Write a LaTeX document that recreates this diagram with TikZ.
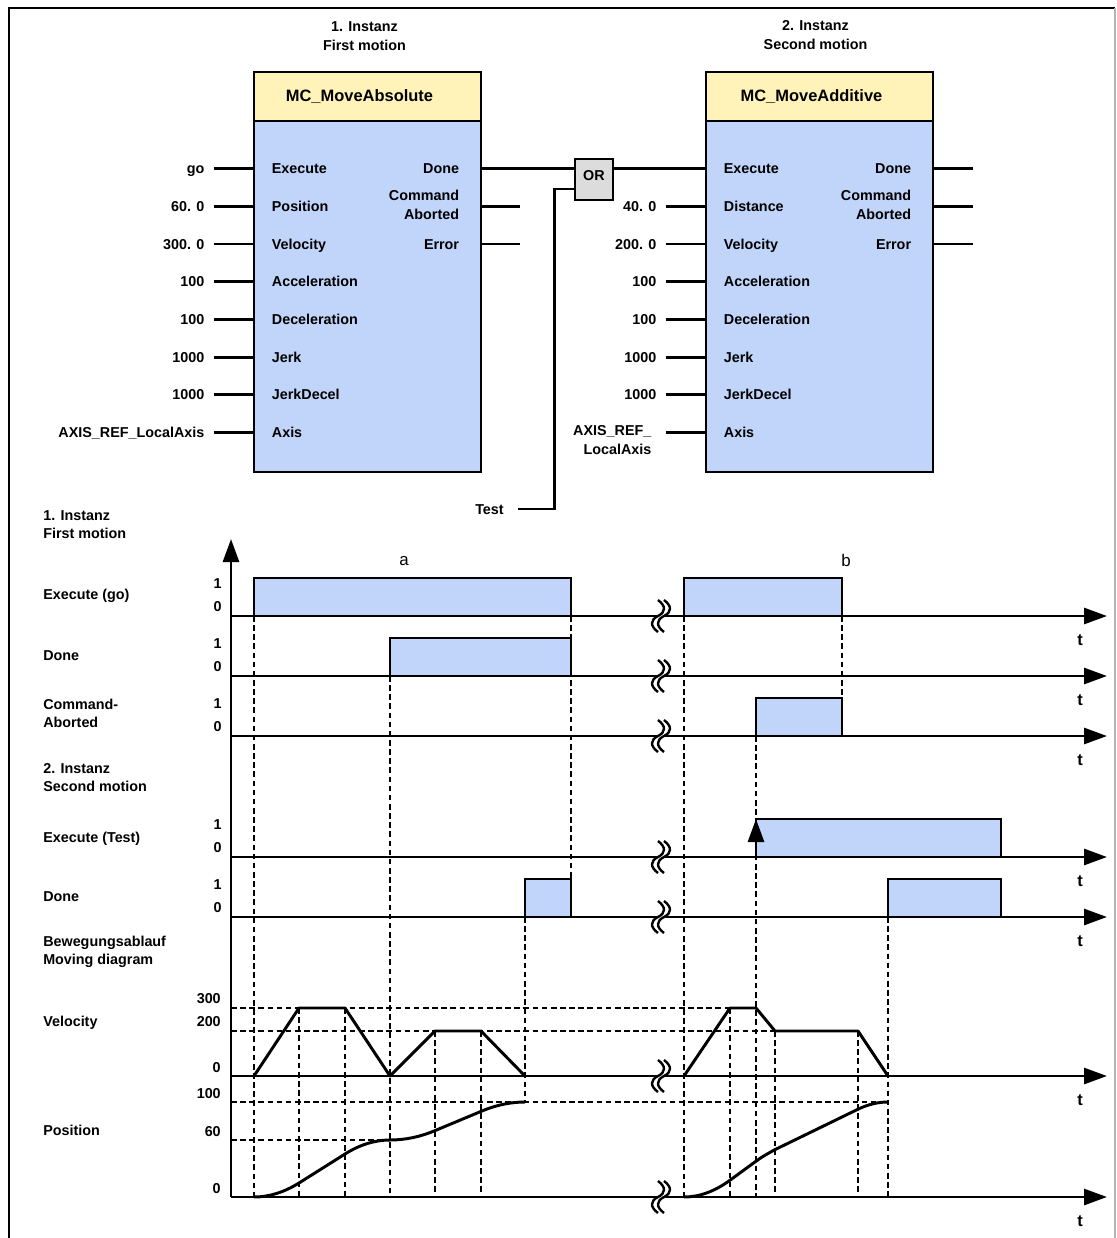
\documentclass[tikz,border=0pt]{standalone}
\usepackage{fontspec}
\setmainfont{Liberation Sans}
\usetikzlibrary{arrows.meta, positioning, calc}
\definecolor{fbblue}{HTML}{C1D5FA}
\definecolor{fbyellow}{HTML}{FFF3BA}
\definecolor{gategray}{HTML}{DCDCDC}
\definecolor{framegray}{HTML}{B4B4B4}

\begin{document}
\begin{tikzpicture}[x=0.025cm, y=-0.025cm,
    wire/.style={line width=2.1pt},
    fbody/.style={draw, line width=1.9pt, fill=fbblue, minimum width=5.675cm,
                  minimum height=10cm, inner sep=0pt},
    fhead/.style={draw, line width=1.9pt, fill=fbyellow, minimum width=5.675cm,
                  minimum height=1.225cm, inner sep=0pt, anchor=north},
    gate/.style={draw, line width=1.9pt, fill=gategray, minimum width=0.95cm,
                 minimum height=1.025cm, inner sep=0pt,
                 font=\fontsize{10.2}{13}\selectfont\bfseries, text height=7.3pt, text depth=6.4pt},
    pinlbl/.style={font=\fontsize{10.2}{13}\selectfont\bfseries, inner sep=0pt,
                   text height=7.3pt, text depth=0pt},
    multilbl/.style={font=\fontsize{10.2}{13}\selectfont\bfseries, inner sep=0pt, align=left},
    headlbl/.style={font=\fontsize{11.7}{14}\selectfont\bfseries, inner sep=0pt},
    marklbl/.style={font=\fontsize{12}{14}\selectfont, inner sep=0pt},
    tlbl/.style={font=\fontsize{11.7}{14}\selectfont\bfseries, inner sep=0pt},
    axis/.style={line width=2pt, -{Triangle[length=5.75mm, width=4mm]}},
    pulse/.style={draw, line width=1.9pt, fill=fbblue},
    guide/.style={line width=1.4pt, dash pattern=on 4pt off 2.5pt},
    motion/.style={line width=2.1pt, line join=round},
    axisbreak/.pic={
      \fill[white] (-3,-16) .. controls (5,-10) and (5,-4) .. (-3,0)
                   .. controls (-11,4) and (-11,10) .. (-3,16) -- (3,16)
                   .. controls (-5,10) and (-5,4) .. (3,0)
                   .. controls (11,-4) and (11,-10) .. (3,-16) -- cycle;
      \foreach \dx in {-3,3}
        \draw[line width=1.7pt] (\dx,-16) .. controls (\dx+8,-10) and (\dx+8,-4) .. (\dx,0)
                                .. controls (\dx-8,4) and (\dx-8,10) .. (\dx,16);
    }
]
\useasboundingbox (0,0) rectangle (1117,1238);

% frame
\draw[line width=2pt] (9,1238) -- (9,8) -- (1115,8);
\draw[framegray, line width=0.8pt] (1115,8) -- (1115,1238);

% first instance: MC_MoveAbsolute
\node[fbody] (ma) at (367.5,272) {};
\node[fhead, label={[headlbl, xshift=-2mm]center:MC\_MoveAbsolute}] (ma-h) at (ma.north) {};
\node[multilbl, align=center, anchor=north] (ma-title) at ($(ma.north)+(-3,-49)$) {1. Instanz\\First motion};

\foreach \val/\pin [count=\i from 0] in {go/Execute, 60. 0/Position, 300. 0/Velocity,
    100/Acceleration, 100/Deceleration, 1000/Jerk, 1000/JerkDecel, AXIS\_REF\_LocalAxis/Axis} {
  \coordinate (ma-i\i) at ($(ma.north west)+(0,98+37.7*\i)$);
  \coordinate (ma-s\i) at ($(ma-i\i)+(-39,0)$);
  \node[pinlbl, right=4.75mm of ma-i\i] (ma-pin\i) {\pin};
  \node[pinlbl, left=2.25mm of ma-s\i] (ma-val\i) {\val};
  \draw[wire] (ma-s\i) -- (ma-i\i);
}
\foreach \i in {0,1,2}
  \coordinate (ma-o\i) at ($(ma.north east)+(0,98+37.7*\i)$);
\node[pinlbl, left=5.75mm of ma-o0] (ma-done) {Done};
\node[multilbl, align=right, anchor=north east] (ma-abort) at ($(ma-o1)+(-23,-16)$) {Command\\Aborted};
\node[pinlbl, left=5.75mm of ma-o2] (ma-err) {Error};
\foreach \i in {1,2} {
  \coordinate (ma-e\i) at ($(ma-o\i)+(38,0)$);
  \draw[wire] (ma-o\i) -- (ma-e\i);
}

% second instance: MC_MoveAdditive
\node[fbody] (mb) at (819.5,272) {};
\node[fhead, label={[headlbl, xshift=-2mm]center:MC\_MoveAdditive}] (mb-h) at (mb.north) {};
\node[multilbl, align=center, anchor=north] (mb-title) at ($(mb.north)+(-4,-50)$) {2. Instanz\\Second motion};

\foreach \i in {0,...,7}
  \coordinate (mb-i\i) at ($(mb.north west)+(0,98+37.7*\i)$);
\node[pinlbl, right=4.75mm of mb-i0] (mb-pin0) {Execute};
\foreach \val/\pin [count=\i] in {40. 0/Distance, 200. 0/Velocity, 100/Acceleration,
    100/Deceleration, 1000/Jerk, 1000/JerkDecel} {
  \coordinate (mb-s\i) at ($(mb-i\i)+(-39,0)$);
  \node[pinlbl, right=4.75mm of mb-i\i] (mb-pin\i) {\pin};
  \node[pinlbl, left=2.25mm of mb-s\i] (mb-val\i) {\val};
  \draw[wire] (mb-s\i) -- (mb-i\i);
}
\coordinate (mb-s7) at ($(mb-i7)+(-39,0)$);
\node[pinlbl, right=4.75mm of mb-i7] (mb-pin7) {Axis};
\node[multilbl, align=right, anchor=north east] (mb-val7) at ($(mb-s7)+(-14,-7)$) {AXIS\_REF\_\\LocalAxis};
\draw[wire] (mb-s7) -- (mb-i7);

\foreach \i in {0,1,2} {
  \coordinate (mb-o\i) at ($(mb.north east)+(0,98+37.7*\i)$);
  \coordinate (mb-e\i) at ($(mb-o\i)+(39,0)$);
  \draw[wire] (mb-o\i) -- (mb-e\i);
}
\node[pinlbl, left=5.75mm of mb-o0] (mb-done) {Done};
\node[multilbl, align=right, anchor=north east] (mb-abort) at ($(mb-o1)+(-23,-16)$) {Command\\Aborted};
\node[pinlbl, left=5.75mm of mb-o2] (mb-err) {Error};

% OR gate and Test input
\node[gate] (or) at (594,179.5) {OR};
\coordinate (or-in) at ($(or.west)+(0,9.5)$);
\coordinate (or-bend) at ($(or-in)+(-19,0)$);
\coordinate (test) at (518,509);
\node[pinlbl, left=3.5mm of test] (test-lbl) {Test};
\draw[wire] (ma-o0) -- (ma-o0 -| or.west);
\draw[wire] (or.east |- mb-i0) -- (mb-i0);
\draw[wire] (test) -| (or-bend) -- (or-in);

% timing diagram
\coordinate (orig) at (231,1197);
\coordinate (ytop) at (231,539);

\foreach \x/\ya/\yb in {254/616/1197, 390/676/1197, 571/616/880, 299/1008/1197, 345/1008/1197,
    435/1031/1197, 481/1031/1197, 525/917/1102, 684/616/1197, 842/616/698, 756/736/1197,
    730/1008/1197, 775/1031/1197, 858/1031/1197, 888/917/1197}
  \draw[guide] (\x,\ya) -- (\x,\yb);
\foreach \y/\xb in {1008/730, 1031/775, 1102/888, 1140/390}
  \draw[guide] (ytop |- 0,\y) -- (\xb,\y);

\foreach \xa/\xb/\y in {254/571/616, 684/842/616, 390/571/676, 756/842/736,
    756/1001/857, 525/571/917, 888/1001/917}
  \draw[pulse] (\xa,\y) |- (\xb,\y-38) -- (\xb,\y);

\draw[axis] (orig) -- (ytop);
\foreach \y/\name in {616/exa, 676/dna, 736/caa, 857/exb, 917/dnb, 1076/vel, 1197/pos} {
  \coordinate (\name-s) at (231,\y);
  \coordinate (\name-e) at (1107,\y);
  \draw[axis] (\name-s) -- (\name-e);
  \node[tlbl] (\name-t) at (1080,\y+24) {t};
  \pic at (661,\y) {axisbreak};
}
\foreach \y/\name in {616/exa, 676/dna, 736/caa, 857/exb, 917/dnb} {
  \node[pinlbl, anchor=east] (\name-hi) at (222,\y-33) {1};
  \node[pinlbl, anchor=east] (\name-lo) at (222,\y-10) {0};
}
\draw[axis] (756,857) -- (756,819);

\foreach \v/\y [count=\k] in {300/998, 200/1021, 0/1067, 100/1093, 60/1131, 0/1188}
  \node[pinlbl, anchor=east] (scale\k) at (221,\y) {\v};

\node[marklbl] (mark-a) at (404,561) {a};
\node[marklbl] (mark-b) at (846,560) {b};

\node[multilbl, anchor=north west] (sig-first) at (43,510) {1. Instanz\\First motion};
\node[pinlbl, anchor=west] (sig-exa) at (43,594) {Execute (go)};
\node[pinlbl, anchor=west] (sig-dna) at (43,655) {Done};
\node[multilbl, anchor=north west] (sig-caa) at (43,699) {Command-\\Aborted};
\node[multilbl, anchor=north west] (sig-second) at (43,763) {2. Instanz\\Second motion};
\node[pinlbl, anchor=west] (sig-exb) at (43,837) {Execute (Test)};
\node[pinlbl, anchor=west] (sig-dnb) at (43,896) {Done};
\node[multilbl, anchor=north west] (sig-move) at (43,936) {Bewegungsablauf\\Moving diagram};
\node[pinlbl, anchor=west] (sig-vel) at (43,1021) {Velocity};
\node[pinlbl, anchor=west] (sig-pos) at (43,1130) {Position};

% velocity profiles
\draw[motion] (254,1076) -- (299,1008) -- (345,1008) -- (390,1076) -- (435,1031) -- (481,1031) -- (525,1076);
\draw[motion] (684,1076) -- (730,1008) -- (756,1008) -- (775,1031) -- (858,1031) -- (888,1076);

% position curves
\draw[motion] (254,1197) .. controls (269,1197) and (284,1192.3) .. (299,1183) -- (345,1154)
  .. controls (359.8,1144.7) and (374.8,1140) .. (390,1140)
  .. controls (405,1140) and (420,1136.9) .. (435,1130.6) -- (481,1111.4)
  .. controls (495.7,1105.1) and (510.3,1102) .. (525,1102);
\draw[motion] (684,1197) .. controls (699.3,1197) and (714.7,1191.4) .. (730,1180.2) -- (756,1161.2)
  .. controls (762.5,1156.4) and (769.5,1152.6) .. (775,1149.6) -- (858,1109.2)
  .. controls (868,1104.4) and (878,1102) .. (888,1102);
\end{tikzpicture}
\end{document}
